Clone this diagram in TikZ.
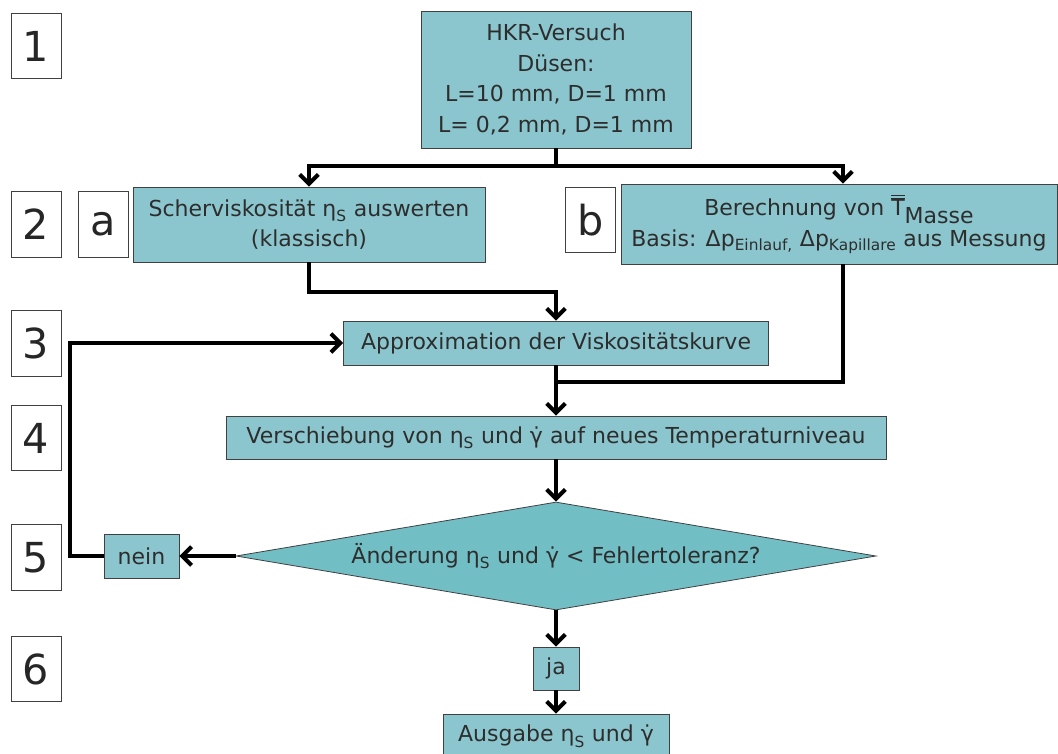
\documentclass[tikz,border=0pt]{standalone}
\usepackage{fontspec}
\setmainfont{DejaVu Sans}
\usepackage{tikz}
\usetikzlibrary{arrows.meta,shapes.geometric}
\definecolor{kastenfarbe}{RGB}{139,198,206}
\definecolor{rautenfarbe}{RGB}{114,190,197}
\definecolor{schrift}{RGB}{45,45,45}
\newcommand{\tiefS}{\raisebox{-1.5pt}{\textsubscript{S}}}
\newcommand{\gpunkt}{\.{γ}}
\tikzset{>={Straight Barb[length=7pt,width=14pt]},
         kasten/.style={draw=black!75, fill=kastenfarbe, text=schrift,
           line width=0.6pt, inner sep=0pt, align=center,
           font=\fontsize{16.5}{23}\selectfont},
         nummer/.style={draw=black!75, fill=white, text=black!85,
           line width=0.6pt, inner sep=0pt, minimum width=37.5pt,
           minimum height=49pt, font=\fontsize{31}{36}\selectfont},
         fluss/.style={line width=3pt}}

\begin{document}
\begin{tikzpicture}[x=0.75pt,y=-0.75pt]
	  \useasboundingbox (0,0) rectangle (1058,754);
	  % Schrittnummern
	  \node[nummer] (n1) at (36,46)    {1};
	  \node[nummer] (n2) at (36,224.5) {2};
	  \node[nummer] (n3) at (36,343.5) {3};
	  \node[nummer] (n4) at (36,438)   {4};
	  \node[nummer] (n5) at (36,557.5) {5};
	  \node[nummer] (n6) at (36,669)   {6};
	  \node[nummer] (na) at (103,224.5) {a};
	  \node[nummer] (nb) at (590.5,220) {b};
	  % Ablauf
	  \node[kasten, minimum width=202.5pt, minimum height=102.75pt] (hkr) at (556,79.5)
	    {HKR-Versuch\\Düsen:\\L=10 mm, D=1 mm\\L= 0,2 mm, D=1 mm};
	  \node[kasten, minimum width=264pt, minimum height=56.25pt] (scher) at (309,224.5)
	    {Scherviskosität η\tiefS{} auswerten\\(klassisch)};
	  \node[kasten, minimum width=327pt, minimum height=60pt] (berech) at (839,224)
	    {Berechnung von $\overline{\overline{\mbox{T}}}$\raisebox{-6pt}{Masse}\\
	     Basis: Δp\textsubscript{Einlauf,} Δp\textsubscript{Kapillare} aus Messung};
	  \node[kasten, minimum width=318.75pt, minimum height=33pt] (approx) at (556,343)
	    {Approximation der Viskositätskurve};
	  \node[kasten, minimum width=495pt, minimum height=32.25pt] (versch) at (556,437.5)
	    {Verschiebung von η\tiefS{} und \gpunkt{} auf neues Temperaturniveau};
	  \node[kasten, diamond, aspect=5.93, fill=rautenfarbe, minimum width=480pt, minimum height=81pt] (raute) at (556,556)
	    {Änderung η\tiefS{} und \gpunkt{} < Fehlertoleranz?};
	  \node[kasten, minimum width=56.25pt, minimum height=33pt] (nein) at (141.5,556) {nein};
	  \node[kasten, minimum width=34.5pt, minimum height=32.25pt] (ja) at (556,668.5) {ja};
	  \node[kasten, minimum width=169.5pt, minimum height=33pt] (ausgabe) at (556,736)
	    {Ausgabe η\tiefS{} und \gpunkt};
	  % Verbindungen
	  \coordinate (verteil) at (556,166);
	  \coordinate (zulauf) at (556,292);
	  \coordinate (sammel) at (556,382);
	  \coordinate (rueck) at (70,556);
	  \draw[fluss] (hkr.south) -- (verteil);
	  \draw[fluss,->] (verteil) -| (scher.north);
	  \draw[fluss,->] (verteil) -| ([xshift=3pt]berech.north);
	  \draw[fluss,->] (scher.south) |- (zulauf) -- (approx.north);
	  \draw[fluss] ([xshift=3pt]berech.south) |- (sammel);
	  \draw[fluss,->] (approx.south) -- (versch.north);
	  \draw[fluss,->] (versch.south) -- (raute.north);
	  \draw[fluss,->] (raute.west) -- (nein.east);
	  \draw[fluss,->] (nein.west) -- (rueck) |- (approx.west);
	  \draw[fluss,->] (raute.south) -- (ja.north);
	  \draw[fluss,->] (ja.south) -- (ausgabe.north);
	\end{tikzpicture}
\end{document}
